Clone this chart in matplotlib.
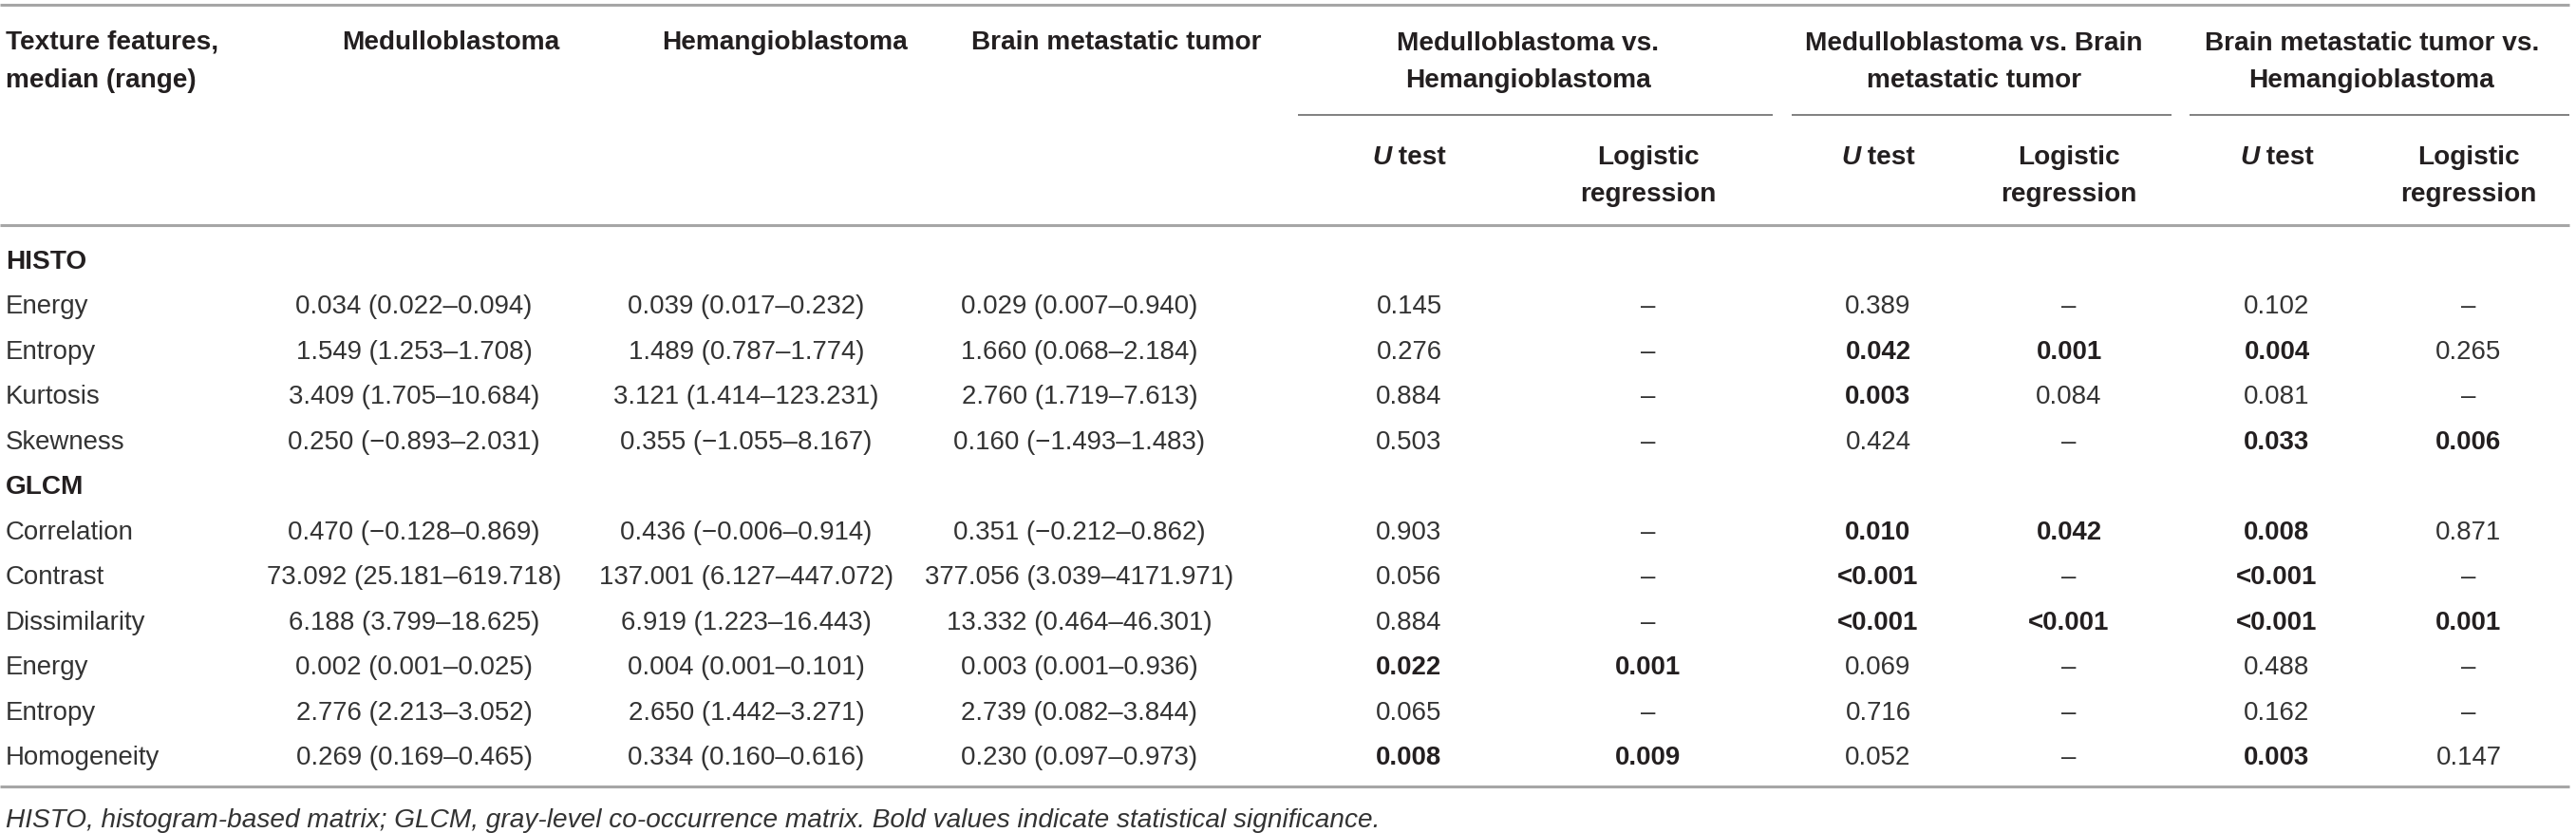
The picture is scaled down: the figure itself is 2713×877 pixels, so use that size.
import matplotlib
matplotlib.use('Agg')
import matplotlib.pyplot as plt

plt.rcParams['font.family'] = ['Liberation Sans', 'DejaVu Sans']

# ---- table contents ----
groups = ['HISTO', 'GLCM']
histo_features = ['Energy', 'Entropy', 'Kurtosis', 'Skewness']
glcm_features = ['Correlation', 'Contrast', 'Dissimilarity', 'Energy', 'Entropy', 'Homogeneity']

mb = ['0.034 (0.022–0.094)', '1.549 (1.253–1.708)', '3.409 (1.705–10.684)', '0.250 (−0.893–2.031)',
      '0.470 (−0.128–0.869)', '73.092 (25.181–619.718)', '6.188 (3.799–18.625)', '0.002 (0.001–0.025)',
      '2.776 (2.213–3.052)', '0.269 (0.169–0.465)']
hb = ['0.039 (0.017–0.232)', '1.489 (0.787–1.774)', '3.121 (1.414–123.231)', '0.355 (−1.055–8.167)',
      '0.436 (−0.006–0.914)', '137.001 (6.127–447.072)', '6.919 (1.223–16.443)', '0.004 (0.001–0.101)',
      '2.650 (1.442–3.271)', '0.334 (0.160–0.616)']
bmt = ['0.029 (0.007–0.940)', '1.660 (0.068–2.184)', '2.760 (1.719–7.613)', '0.160 (−1.493–1.483)',
       '0.351 (−0.212–0.862)', '377.056 (3.039–4171.971)', '13.332 (0.464–46.301)', '0.003 (0.001–0.936)',
       '2.739 (0.082–3.844)', '0.230 (0.097–0.973)']

u_mb_hb = ['0.145', '0.276', '0.884', '0.503', '0.903', '0.056', '0.884', '0.022', '0.065', '0.008']
lr_mb_hb = ['–', '–', '–', '–', '–', '–', '–', '0.001', '–', '0.009']
u_mb_bmt = ['0.389', '0.042', '0.003', '0.424', '0.010', '<0.001', '<0.001', '0.069', '0.716', '0.052']
lr_mb_bmt = ['–', '0.001', '0.084', '–', '0.042', '–', '<0.001', '–', '–', '–']
u_bmt_hb = ['0.102', '0.004', '0.081', '0.033', '0.008', '<0.001', '<0.001', '0.488', '0.162', '0.003']
lr_bmt_hb = ['–', '0.265', '–', '0.006', '0.871', '–', '0.001', '–', '–', '0.147']

col_heads = ['Medulloblastoma', 'Hemangioblastoma', 'Brain metastatic tumor']
comp_heads = [['Medulloblastoma vs.', 'Hemangioblastoma'],
              ['Medulloblastoma vs. Brain', 'metastatic tumor'],
              ['Brain metastatic tumor vs.', 'Hemangioblastoma']]
footnote = ('HISTO, histogram-based matrix; GLCM, gray-level co-occurrence matrix. '
            'Bold values indicate statistical significance.')

# ---- layout (pixels) ----
W, H = 2713, 878
ink = '#231f20'
ink_light = '#333333'
fs_head = 20.2
fs_body = 19.9
fs_foot = 20.2

fig = plt.figure(figsize=(W / 100, H / 100), dpi=100)
ax = fig.add_axes([0, 0, 1, 1])
ax.set_xlim(0, W)
ax.set_ylim(H, 0)
ax.axis('off')
rend = fig.canvas.get_renderer()


def txt(x, y, s, ha='center', weight='normal', style='normal', size=fs_body):
    # y is the visual centre of the capitals
    c = ink if weight == 'bold' else ink_light
    return ax.text(x, y + 10, s, ha=ha, va='baseline', color=c,
                   fontsize=size, fontweight=weight, fontstyle=style)


def is_sig(s):
    s = s.replace('<', '')
    try:
        return float(s) < 0.05
    except ValueError:
        return False


# rules
for yl in (6, 238, 829):
    ax.plot([0, 2706], [yl, yl], color='#a6a6a6', lw=2.2, solid_capstyle='butt')
spans = [(1367, 1867), (1887, 2287), (2306, 2706)]
for x0, x1 in spans:
    ax.plot([x0, x1], [122, 122], color='#808080', lw=1.4, solid_capstyle='butt')

# header
txt(6, 42, 'Texture features,', ha='left', weight='bold', size=fs_head)
txt(6, 82, 'median (range)', ha='left', weight='bold', size=fs_head)
head_left = [360, 697, 1023]
for x, s in zip(head_left, col_heads):
    txt(x, 42, s, ha='left', weight='bold', size=fs_head)
for (x0, x1), lines in zip(spans, comp_heads):
    xc = (x0 + x1) / 2 - 8
    txt(xc, 43, lines[0], weight='bold', size=fs_head)
    txt(xc, 82, lines[1], weight='bold', size=fs_head)

sub_x = [1484, 1736, 1978, 2179, 2398, 2600]
for i, xc in enumerate(sub_x):
    if i % 2 == 0:
        t1 = txt(0, 163, 'U', ha='left', weight='bold', style='italic', size=fs_head)
        t2 = txt(0, 163, ' test', ha='left', weight='bold', size=fs_head)
        w1 = t1.get_window_extent(rend).width
        w2 = t2.get_window_extent(rend).width
        t1.set_x(xc - (w1 + w2) / 2)
        t2.set_x(xc - (w1 + w2) / 2 + w1)
    else:
        txt(xc, 163, 'Logistic', weight='bold', size=fs_head)
        txt(xc, 202, 'regression', weight='bold', size=fs_head)

# body
y0, dy = 273, 47.5
rows = []
y = y0
txt(6, y, groups[0], ha='left', weight='bold', size=fs_head)
for f in histo_features:
    y += dy
    rows.append((f, y))
y += dy
txt(6, y, groups[1], ha='left', weight='bold', size=fs_head)
for f in glcm_features:
    y += dy
    rows.append((f, y))

data_x = [436, 786, 1137]
p_cols = [u_mb_hb, lr_mb_hb, u_mb_bmt, lr_mb_bmt, u_bmt_hb, lr_bmt_hb]
for i, (name, yy) in enumerate(rows):
    txt(6, yy, name, ha='left')
    for x, col in zip(data_x, [mb, hb, bmt]):
        txt(x, yy, col[i])
    for x, col in zip(sub_x, p_cols):
        s = col[i]
        txt(x, yy, s, weight='bold' if is_sig(s) else 'normal')

txt(6, 861, footnote, ha='left', style='italic', size=fs_foot)

fig.savefig('out.png', dpi=100, facecolor='white')
